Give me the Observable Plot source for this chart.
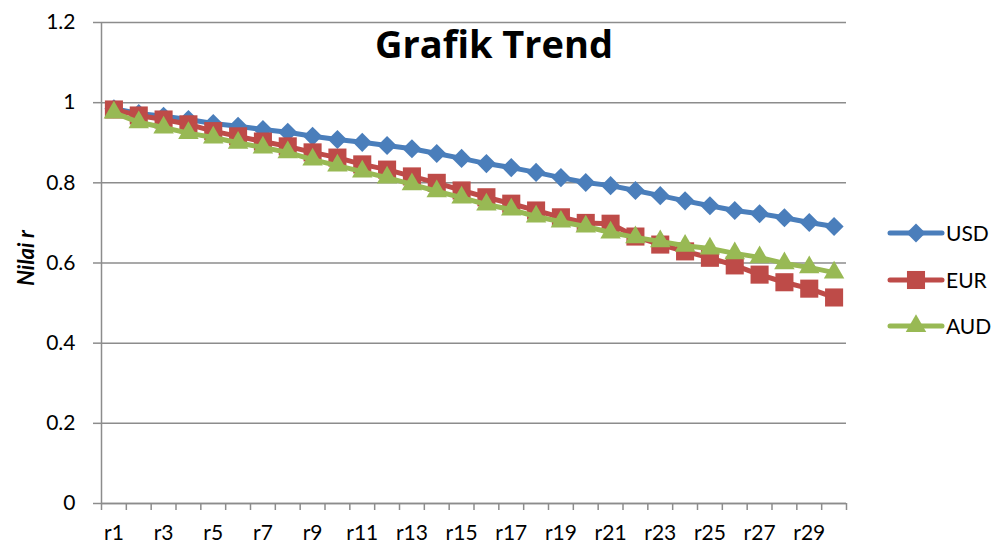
<!DOCTYPE html>
<html>
<head>
<meta charset="utf-8">
<script src="https://cdn.jsdelivr.net/npm/d3@7"></script>
<script src="https://cdn.jsdelivr.net/npm/@observablehq/plot@0.6"></script>
<style>
  html, body { margin: 0; padding: 0; background: #fff; }
  #wrap { position: relative; width: 998px; height: 546px; overflow: hidden; font-family: Lato, "Open Sans", sans-serif; }
  #wrap svg { position: absolute; left: 0; top: 0; }
</style>
</head>
<body>
<div id="wrap"></div>
<script>
const categories = ["r1","r2","r3","r4","r5","r6","r7","r8","r9","r10","r11","r12","r13","r14","r15","r16","r17","r18","r19","r20","r21","r22","r23","r24","r25","r26","r27","r28","r29","r30"];
const usd = [0.985,0.973,0.966,0.958,0.948,0.941,0.933,0.926,0.916,0.908,0.901,0.893,0.885,0.873,0.861,0.848,0.838,0.826,0.813,0.801,0.793,0.781,0.768,0.755,0.743,0.731,0.723,0.713,0.701,0.691];
const eur = [0.983,0.968,0.958,0.946,0.929,0.916,0.903,0.891,0.876,0.863,0.846,0.833,0.816,0.800,0.781,0.764,0.748,0.731,0.714,0.700,0.698,0.666,0.646,0.629,0.613,0.594,0.571,0.552,0.536,0.514];
const aud = [0.975,0.951,0.938,0.924,0.913,0.900,0.888,0.876,0.858,0.843,0.828,0.813,0.796,0.779,0.763,0.746,0.733,0.716,0.703,0.691,0.676,0.664,0.654,0.643,0.636,0.624,0.614,0.599,0.589,0.576];
const seriesNames = ["USD","EUR","AUD"];
const seriesColors = ["#4A7EBB","#BE4B48","#98B954"];
const yTicks = [0,0.2,0.4,0.6,0.8,1,1.2];
const title = "Grafik Trend";
const yLabel = "Nilai r";

const seriesValues = [usd, eur, aud];
const symbols = ["diamond2","square","triangle"];
const radii = [8.6, 10.2, 7.6];
const rows = seriesValues.map((vals, s) => vals.map((v, i) => ({series: seriesNames[s], idx: i + 1, v})));

const gridColor = "#8c8c8c";
const font = "Lato, 'Open Sans', sans-serif";
const marks = [
  Plot.gridY(yTicks, {stroke: gridColor, strokeOpacity: 1, strokeWidth: 1.5}),
  Plot.ruleY([0], {stroke: gridColor, strokeWidth: 1.5}),
  Plot.ruleX([0.5], {stroke: gridColor, strokeWidth: 1.5}),
  Plot.axisY(yTicks, {tickSize: 8, tickPadding: 18, tickFormat: d => String(d), fontSize: 21, stroke: gridColor, strokeWidth: 1.5, label: null}),
  Plot.axisX(d3.range(0.5, categories.length + 1, 1), {tickSize: 7, tickFormat: () => "", stroke: gridColor, strokeWidth: 1.5, label: null}),
  Plot.axisX(categories.map((c, i) => i + 1).filter(i => i % 2 === 1), {tickSize: 0, tickPadding: 22, tickFormat: i => categories[i - 1], fontSize: 21, label: null})
];
rows.forEach((data, s) => {
  marks.push(Plot.line(data, {x: "idx", y: "v", stroke: seriesColors[s], strokeWidth: 5, curve: "linear"}));
  marks.push(Plot.dot(data, {x: "idx", y: "v", fill: seriesColors[s], stroke: "none", symbol: () => symbols[s], r: radii[s]}));
});
marks.push(Plot.text([title], {frameAnchor: "top", dx: 20, dy: 9, fontSize: 38, fontWeight: "bold", fontFamily: "'Open Sans', Lato, sans-serif", fill: "#000"}));

const chart = Plot.plot({
  width: 998,
  height: 546,
  marginLeft: 101,
  marginRight: 152,
  marginTop: 22,
  marginBottom: 43,
  style: {fontFamily: font, color: "#000", background: "#fff"},
  x: {type: "linear", domain: [0.5, categories.length + 0.5], axis: null},
  y: {domain: [0, 1.2], axis: null},
  symbol: {type: "identity"},
  marks
});
document.getElementById("wrap").appendChild(chart);

// y axis label
const svg = d3.select(chart);
svg.append("text")
  .attr("transform", "translate(26,258) rotate(-90)")
  .attr("text-anchor", "middle")
  .attr("dy", "0.36em")
  .attr("font-size", 22)
  .attr("font-weight", "bold")
  .attr("font-style", "italic")
  .attr("fill", "#000")
  .text(yLabel);

// legend
const legend = svg.append("g").attr("class", "legend");
const legY = [233, 280, 326];
seriesNames.forEach((name, s) => {
  const g = legend.append("g").attr("transform", `translate(0,${legY[s]})`);
  g.append("line").attr("x1", 890).attr("x2", 942).attr("y1", 0).attr("y2", 0)
    .attr("stroke", seriesColors[s]).attr("stroke-width", 5).attr("stroke-linecap", "round");
  const symType = [d3.symbolDiamond2, d3.symbolSquare, d3.symbolTriangle][s];
  const r = radii[s];
  g.append("path").attr("transform", "translate(916,0)")
    .attr("d", d3.symbol(symType, Math.PI * r * r)())
    .attr("fill", seriesColors[s]);
  g.append("text").attr("x", 946).attr("y", 0).attr("dy", "0.36em")
    .attr("text-anchor", "start")
    .attr("font-size", 21).attr("fill", "#000").text(name);
});
</script>
</body>
</html>
